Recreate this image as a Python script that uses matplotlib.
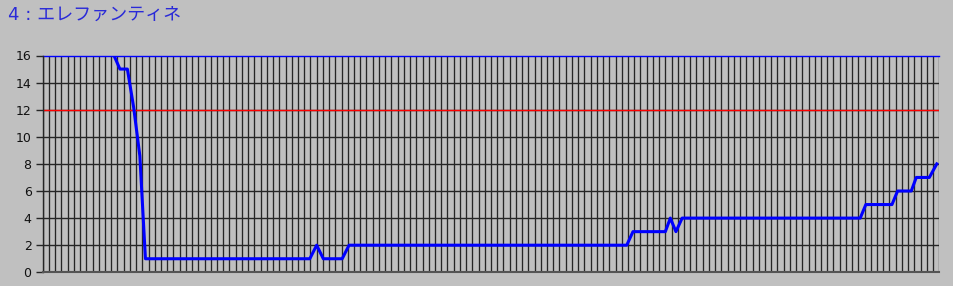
import numpy as np
import matplotlib
matplotlib.use("Agg")
import matplotlib.pyplot as plt

plt.rcParams['font.family'] = ['Noto Sans CJK JP', 'DejaVu Sans']

title = "4 : エレファンティネ"
y_ticks = [0, 2, 4, 6, 8, 10, 12, 14, 16]
limit_value = 12
top_value = 16
n_slots = 145  # vertical grid lines

# corner points of the trace (position in grid slots, value)
trace_x = [11.45, 12.4, 13.6, 14.6, 15.6, 16.5, 42.9, 44.0, 45.07, 48.1, 49.2,
           93.8, 94.8, 100.0, 100.8, 101.7, 102.7, 131.3, 132.2, 136.4, 137.3,
           139.5, 140.3, 142.4, 143.6]
trace_y = [16, 15, 15, 12.2, 8.6, 1, 1, 2, 1, 1, 2,
           2, 3, 3, 4, 3, 4, 4, 5, 5, 6,
           6, 7, 7, 8]

fig = plt.figure(figsize=(9.54, 2.86), dpi=100, facecolor='#c0c0c0')
W, H = 954, 286
left, right, top, bottom = 42.7, 939.3, 55.5, 272.3
ax = fig.add_axes([left / W, 1 - bottom / H, (right - left) / W, (bottom - top) / H])
ax.set_facecolor('#c0c0c0')

for i in range(n_slots):
    ax.axvline(i, color='#262626', lw=0.95, zorder=1)
for yv in y_ticks[1:-1]:
    ax.axhline(yv, color='#262626', lw=1.0, zorder=1)
ax.axhline(limit_value, color='#ff0000', lw=1.0, zorder=2)
ax.axhline(top_value, color='#0000ff', lw=1.0, zorder=2, clip_on=False)

ax.plot(trace_x, trace_y, color='#0000ff', lw=2.2, zorder=3)

ax.set_xlim(0, n_slots - 1)
ax.set_ylim(0, 16)
ax.set_xticks([])
ax.set_yticks(y_ticks)
ax.set_yticklabels([str(t) for t in y_ticks], family='DejaVu Sans', fontsize=9, color='#111111')
ax.tick_params(axis='y', length=5, width=1.0, color='#262626', pad=3)
for s in ['top', 'right']:
    ax.spines[s].set_visible(False)
ax.spines['left'].set_color('#262626')
ax.spines['left'].set_linewidth(1.0)
ax.spines['bottom'].set_color('#555555')
ax.spines['bottom'].set_linewidth(1.5)

fig.text(8 / W, 1 - 15 / H, title, color='#2a2ad8', fontsize=13, va='center', ha='left',
         family=['DejaVu Sans', 'Noto Sans CJK JP'])

fig.savefig('out.png', dpi=100, facecolor=fig.get_facecolor())
